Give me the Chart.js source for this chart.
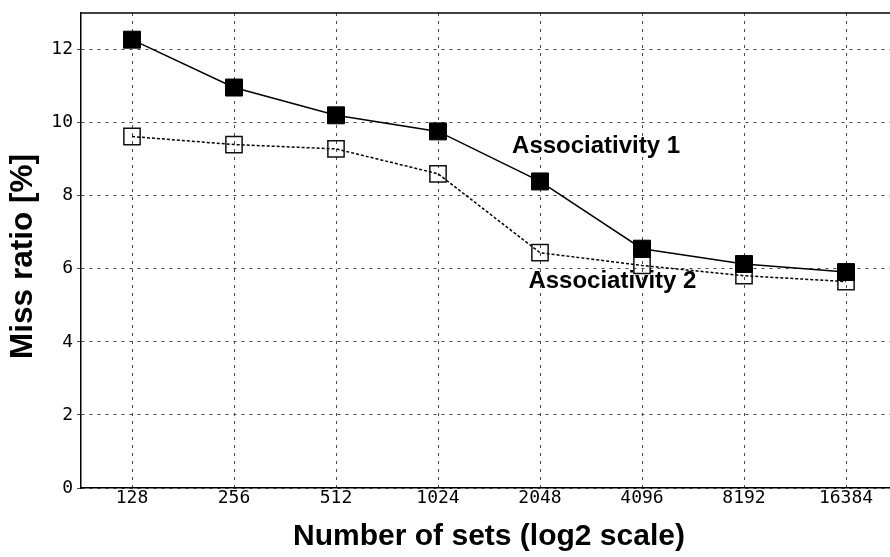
<!DOCTYPE html>
<html>
<head>
<meta charset="utf-8">
<script src="https://cdn.jsdelivr.net/npm/chart.js@4.4.1/dist/chart.umd.min.js"></script>
<style>
  html, body { margin: 0; padding: 0; background: #fff; overflow: hidden; }
  canvas { display: block; }
</style>
</head>
<body>
<canvas id="missChart" width="910" height="557"></canvas>
<script>
// number of sets (log2 scale)
const setSizes = ['128', '256', '512', '1024', '2048', '4096', '8192', '16384'];
// miss ratio [%]
const assoc1 = [12.27, 10.96, 10.2, 9.76, 8.39, 6.55, 6.13, 5.91];
const assoc2 = [9.62, 9.4, 9.28, 8.6, 6.44, 6.09, 5.81, 5.65];
const yTicks = [0, 2, 4, 6, 8, 10, 12];

// in-plot labels
const noteText = ['Associativity 1', 'Associativity 2'];
const noteAt = [[4.55, 9.36], [4.71, 5.66]];
const yTitle = 'Miss ratio [%]';

const gridColor = '#4a4a4a';
const dots = [3, 5];

const frame = {
    id: 'frame',
    afterDatasetsDraw(chart) {
        const { ctx, chartArea, scales } = chart;
        ctx.save();
        ctx.strokeStyle = '#000';
        ctx.lineWidth = 1.5;
        ctx.beginPath();
        ctx.moveTo(chartArea.left, chartArea.top);
        ctx.lineTo(chartArea.right, chartArea.top);
        ctx.stroke();

        ctx.fillStyle = '#000';
        ctx.font = 'bold 24px "Liberation Sans", Arial, sans-serif';
        ctx.textAlign = 'center';
        ctx.textBaseline = 'middle';
        noteText.forEach((t, i) => {
            const x = scales.x.getPixelForValue(noteAt[i][0]);
            const y = scales.y.getPixelForValue(noteAt[i][1]);
            ctx.fillText(t, x, y);
        });

        // y axis title, a little below the centre of the axis like the original
        ctx.font = 'bold 31.5px "Liberation Sans", Arial, sans-serif';
        ctx.translate(23.5, (chartArea.top + chartArea.bottom) / 2 + 6);
        ctx.rotate(-Math.PI / 2);
        ctx.fillText(yTitle, 0, 0);
        ctx.restore();
    }
};

const ctx = document.querySelector('#missChart').getContext('2d');
const missChart = new Chart(ctx, {
    type: 'line',
    data: {
        labels: setSizes,
        datasets: [{
            label: 'Associativity 1',
            data: assoc1,
            borderColor: '#000',
            borderWidth: 1.5,
            pointStyle: 'rect',
            pointRadius: 12,
            pointHoverRadius: 12,
            pointBackgroundColor: '#000',
            pointBorderColor: '#000',
            pointBorderWidth: 1,
            tension: 0
        }, {
            label: 'Associativity 2',
            data: assoc2,
            borderColor: '#000',
            borderWidth: 1.5,
            borderDash: [3, 2],
            pointStyle: 'rect',
            pointRadius: 11.5,
            pointHoverRadius: 11.5,
            pointBackgroundColor: 'rgba(0,0,0,0)',
            pointBorderColor: '#111',
            pointBorderWidth: 1.5,
            tension: 0
        }]
    },
    options: {
        responsive: false,
        animation: false,
        layout: { padding: { top: 12, right: 4, left: 0, bottom: 0 } },
        plugins: {
            legend: { display: false },
            tooltip: { enabled: false }
        },
        scales: {
            x: {
                offset: true,
                grid: {
                    offset: false,
                    color: gridColor,
                    lineWidth: 1,
                    drawTicks: false
                },
                // in v4 border.dash styles the grid lines
                border: { color: '#000', width: 1.5, dash: dots },
                ticks: {
                    color: '#000',
                    padding: 0,
                    maxRotation: 0,
                    font: { family: '"DejaVu Sans Mono", monospace', size: 18 }
                },
                title: {
                    display: true,
                    text: 'Number of sets (log2 scale)',
                    color: '#000',
                    font: { family: '"Liberation Sans", Arial, sans-serif', size: 30, weight: 'bold' },
                    padding: { top: 0, bottom: 2 }
                },
                afterFit: s => {
                    s.height = 69;
                    s.paddingLeft = 0;
                    s.paddingRight = 0;
                }
            },
            y: {
                min: 0,
                max: 13,
                grid: {
                    color: gridColor,
                    lineWidth: 1,
                    tickLength: 4,
                    tickBorderDash: dots
                },
                border: { color: '#000', width: 1.5, dash: dots },
                ticks: {
                    stepSize: 2,
                    color: '#000',
                    padding: 4,
                    font: { family: '"DejaVu Sans Mono", monospace', size: 18 }
                },
                afterBuildTicks: s => { s.ticks = yTicks.map(v => ({ value: v })); },
                afterFit: s => {
                    s.width = 81;
                    s.paddingTop = 0;
                    s.paddingBottom = 0;
                }
            }
        }
    },
    plugins: [frame]
});
</script>
</body>
</html>
